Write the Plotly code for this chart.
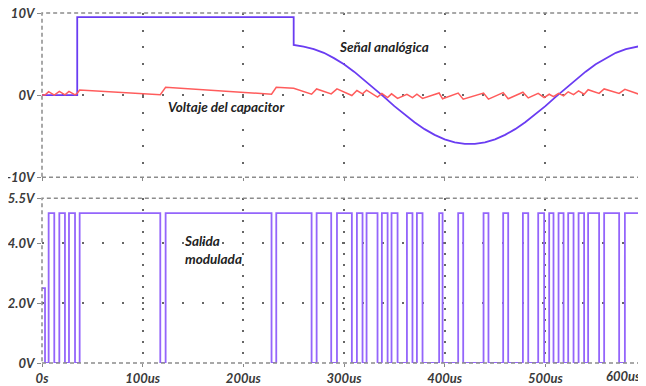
import plotly.graph_objects as go
from plotly.subplots import make_subplots

# ---- data ----
analog_t = [0, 35, 35, 250, 250, 260, 270, 280, 290, 300, 310, 320, 330, 340, 350, 360, 370, 380, 390,
            400, 410, 420, 430, 440, 450, 460, 470, 480, 490, 500, 510, 520, 530, 540, 550, 560,
            570, 580, 590, 597]
analog_v = [0, 0, 9.5, 9.5, 6.1, 5.9, 5.6, 5.15, 4.5, 3.75, 2.85, 1.85, 0.8, -0.25, -1.35, -2.35,
            -3.3, -4.15, -4.85, -5.4, -5.75, -5.95, -5.95, -5.75, -5.4, -4.85, -4.15, -3.3, -2.35,
            -1.35, -0.25, 0.8, 1.85, 2.85, 3.75, 4.5, 5.15, 5.6, 5.9, 6.05]

cap_t = [0, 3, 6.6, 12.2, 17.2, 22.8, 26.8, 32.8, 35, 37.4, 117.5, 122.8, 228, 232.7, 250, 267.8,
         272.8, 287.3, 293, 307.8, 312.8, 318.4, 322.4, 333.3, 337.6, 343.3, 347.2, 353.2, 362.5,
         368, 372.4, 378, 394.5, 397.9, 413.4, 418.4, 438.6, 443.5, 458.1, 463.1, 477.7, 483,
         492.9, 498.8, 503.8, 508.1, 513.1, 518.1, 522.7, 528, 533, 538.5, 542.5, 553.4, 558.4,
         573.3, 579, 593.2, 597]
cap_v = [0, 0, 0.42, 0.0, 0.45, 0.02, 0.45, 0.02, 0.22, 0.62, 0.05, 0.95, 0.1, 0.95, 0.82, 0.1,
         0.75, 0.15, 0.75, -0.05, 0.55, 0.15, 0.6, -0.25, 0.2, -0.3, 0.15, -0.4, 0.1,
         -0.3, 0.1, -0.4, 0.25, -0.45, 0.25, -0.5, 0.25, -0.5, 0.3, -0.45, 0.35, -0.35,
         0.2, -0.3, 0.1, -0.2, 0.2, -0.1, 0.4, 0.05, 0.5, 0.1, 0.65, 0.2, 0.75,
         0.2, 0.7, 0.1, 0.7]

pwm_t = [0, 3, 6.6, 12.2, 17.2, 22.8, 26.8, 32.8, 37.4, 117.5, 122.8, 228, 232.7, 267.8, 272.8,
         287.3, 293, 307.8, 312.8, 318.4, 322.4, 333.3, 337.6, 343.3, 347.2, 353.2, 362.5, 368,
         372.4, 378, 394.5, 397.9, 413.4, 418.4, 438.6, 443.5, 458.1, 463.1, 477.7, 483, 492.9,
         498.8, 503.8, 508.1, 513.1, 518.1, 522.7, 528, 533, 538.5, 542.5, 553.4, 558.4, 573.3,
         579, 593.2, 597]
pwm_v = [2.5] + [0 if i % 2 == 0 else 5.0 for i in range(len(pwm_t) - 1)]

x_ticks = [0, 100, 200, 300, 400, 500]
x_labels = ["0s", "100us", "200us", "300us", "400us", "500us"]
top_ticks = [-10, 0, 10]
top_labels = ["-10V", "0V", "10V"]
bot_ticks = [0, 2, 4, 5.5]
bot_labels = ["0V", "2.0V", "4.0V", "5.5V"]

# ---- figure ----
fig = make_subplots(rows=2, cols=1, shared_xaxes=False, vertical_spacing=0.06)

fig.add_trace(go.Scatter(x=analog_t, y=analog_v, mode="lines",
                         line=dict(color="#6a3cf2", width=1.8)), row=1, col=1)
fig.add_trace(go.Scatter(x=cap_t, y=cap_v, mode="lines",
                         line=dict(color="#ff5c5c", width=1.5)), row=1, col=1)
fig.add_trace(go.Scatter(x=pwm_t, y=pwm_v, mode="lines", line_shape="hv",
                         line=dict(color="#9465fb", width=1.8)), row=2, col=1)

tick_font = dict(family="Lato", size=13, color="#3a3a3a", weight="bold", style="italic")

common_x = dict(range=[0, 597], tickvals=x_ticks, showgrid=True, gridcolor="#666666",
                gridwidth=1.5, zeroline=False, showline=False,
                ticks="outside", ticklen=3, tickcolor="#888888", tickfont=tick_font,
                automargin=False, ticklabeloverflow="allow")
fig.update_xaxes(**common_x, griddash="2px,14.5px", showticklabels=False, row=1, col=1)
fig.update_xaxes(**common_x, griddash="2px,9px", ticktext=x_labels, row=2, col=1)

common_y = dict(showgrid=True, gridcolor="#666666", gridwidth=1.5, griddash="2px,18px",
                zeroline=False, ticks="outside", ticklen=4, tickcolor="#888888",
                tickfont=tick_font, automargin=False, ticklabeloverflow="allow")
fig.update_yaxes(range=[-10, 10], tickvals=top_ticks, ticktext=top_labels, **common_y,
                 row=1, col=1)
fig.update_yaxes(range=[0, 5.5], tickvals=bot_ticks, ticktext=bot_labels, **common_y,
                 row=2, col=1)

ann_font = dict(family="Lato", size=13.5, color="#222222", weight="bold", style="italic")
for xr, yr in (("x domain", "y domain"), ("x2 domain", "y2 domain")):
    fig.add_shape(type="rect", xref=xr, yref=yr, x0=0, x1=1, y0=0, y1=1,
                  line=dict(color="#8c8c8c", width=1.5, dash="4px,3px"), layer="above")

fig.add_annotation(x=293, y=5.85, xref="x", yref="y", text="Señal analógica", showarrow=False,
                   xanchor="left", yanchor="middle", font=ann_font)
fig.add_annotation(x=123, y=-1.45, xref="x", yref="y", text="Voltaje del capacitor",
                   showarrow=False, xanchor="left", yanchor="middle", font=ann_font)
fig.add_annotation(x=139, y=3.77, xref="x2", yref="y2", text="Salida<br>modulada",
                   showarrow=False, xanchor="left", yanchor="middle", align="left",
                   font=ann_font)
fig.add_annotation(x=1, y=0, xref="x2 domain", yref="y2 domain", text="600us",
                   showarrow=False, xanchor="right", yanchor="top", yshift=-3, font=tick_font)

# page body has an 8px margin: shrink the figure by 8px and shift margins accordingly
fig.update_layout(width=638, height=378, margin=dict(l=34, r=3, t=5, b=23),
                  paper_bgcolor="white", plot_bgcolor="white", showlegend=False)
fig.update_layout(yaxis=dict(domain=[0.531, 1.0]), yaxis2=dict(domain=[0.0, 0.471]))

fig.write_html("out.html")
